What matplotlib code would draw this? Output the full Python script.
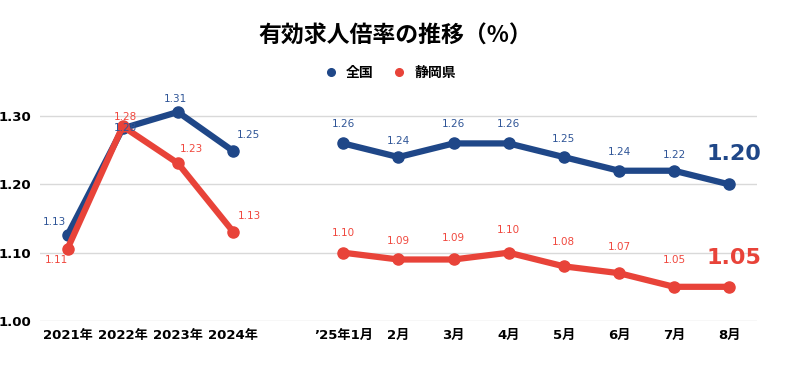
import numpy as np
import matplotlib.pyplot as plt
from matplotlib.lines import Line2D

plt.rcParams['font.family'] = ['DejaVu Sans', 'Noto Sans CJK JP']

# data
categories = ["2021年", "2022年", "2023年", "2024年", "",
              "\u201925年1月", "2月", "3月", "4月", "5月", "6月", "7月", "8月"]
zenkoku = [1.126, 1.282, 1.306, 1.249, np.nan,
           1.26, 1.24, 1.26, 1.26, 1.24, 1.22, 1.22, 1.20]
zenkoku_labels = ["1.13", "1.28", "1.31", "1.25", "",
                  "1.26", "1.24", "1.26", "1.26", "1.25", "1.24", "1.22", "1.20"]
shizuoka = [1.106, 1.285, 1.231, 1.131, np.nan,
            1.10, 1.09, 1.09, 1.10, 1.08, 1.07, 1.05, 1.05]
shizuoka_labels = ["1.11", "1.28", "1.23", "1.13", "",
                   "1.10", "1.09", "1.09", "1.10", "1.08", "1.07", "1.05", "1.05"]

navy = "#1F4788"
red = "#E84339"
navy_lbl = "#2F5597"
red_lbl = "#F0483E"

# label offsets in points (dx, dy)
off_z = [(-9.5, 9.5), (2, 0), (-1.5, 9.5), (11, 11.5), None,
         (0, 14), (0, 11.5), (0, 14), (0, 14), (0, 13), (0, 13.5), (0, 11.5), None]
off_s = [(-8, -8), (2, 6.5), (10, 10.5), (11.5, 11.5), None,
         (0, 14), (0, 13.4), (0, 15.8), (0, 16.5), (0, 17.3), (0, 19), (0, 19), None]

fig = plt.figure(figsize=(8, 3.83), dpi=100)
ax = fig.add_axes([0.05, 0.162, 0.896, 0.624])

x = np.arange(len(categories))
ax.plot(x, zenkoku, color=navy, lw=4.5, marker='o', ms=8, zorder=3)
ax.plot(x, shizuoka, color=red, lw=4.5, marker='o', ms=8, zorder=3.5)

for labels, offs, c in [(zenkoku_labels, off_z, navy_lbl),
                        (shizuoka_labels, off_s, red_lbl)]:
    vals = zenkoku if c == navy_lbl else shizuoka
    for i, v in enumerate(vals):
        if np.isnan(v) or offs[i] is None:
            continue
        ax.annotate(labels[i], (i, v), xytext=offs[i], textcoords='offset points',
                    ha='center', va='center', fontsize=7.5, color=c, zorder=4)

# last values big
ax.annotate(zenkoku_labels[-1], (12, zenkoku[-1]), xytext=(3.6, 22),
            textcoords='offset points', ha='center', va='center',
            fontsize=16, fontweight='bold', color=navy)
ax.annotate(shizuoka_labels[-1], (12, shizuoka[-1]), xytext=(3.6, 21),
            textcoords='offset points', ha='center', va='center',
            fontsize=16, fontweight='bold', color=red)

ax.set_xlim(-0.5, 12.5)
ax.set_ylim(1.0, 1.35)
ax.set_yticks([1.0, 1.1, 1.2, 1.3])
ax.set_yticklabels(["1.00", "1.10", "1.20", "1.30"])
ax.set_xticks(x)
ax.set_xticklabels(categories)
ax.tick_params(length=0, labelsize=9.5, pad=6)
for t in ax.get_xticklabels() + ax.get_yticklabels():
    t.set_fontweight('bold')
ax.grid(axis='y', color='#d9d9d9', lw=1)
ax.set_axisbelow(True)
for s in ax.spines.values():
    s.set_visible(False)

fig.text(0.494, 0.905, "有効求人倍率の推移（%）", ha='center', va='center',
         fontsize=16.5, fontweight='bold', family=['Noto Sans CJK JP', 'DejaVu Sans'])

handles = [Line2D([], [], color=navy, marker='o', ls='none', ms=5.5),
           Line2D([], [], color=red, marker='o', ls='none', ms=5.5)]
fig.legend(handles, ["全国", "静岡県"], loc='center', bbox_to_anchor=(0.483, 0.81),
           ncol=2, frameon=False, handletextpad=0.1, columnspacing=0.8,
           prop={'family': ['Noto Sans CJK JP'], 'size': 10, 'weight': 'bold'})

fig.savefig("out.png", dpi=100)
